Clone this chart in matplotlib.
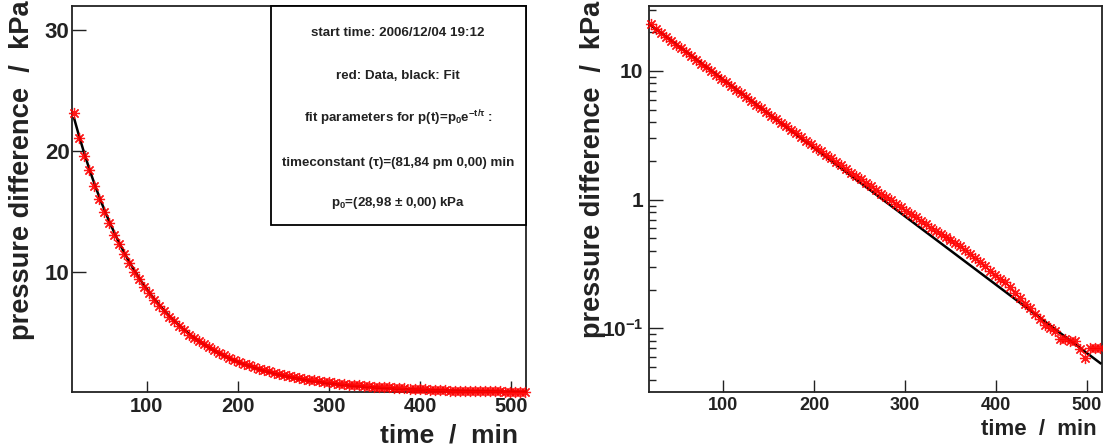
import matplotlib
matplotlib.use('Agg')
import matplotlib.pyplot as plt
import numpy as np
from matplotlib.patches import Rectangle
from matplotlib.ticker import FixedLocator, FixedFormatter, LogLocator, NullFormatter

plt.rcParams['font.family'] = ['Liberation Sans', 'DejaVu Sans']
plt.rcParams['font.weight'] = 'bold'
plt.rcParams['mathtext.fontset'] = 'custom'
plt.rcParams['mathtext.rm'] = 'Liberation Sans:bold'
plt.rcParams['mathtext.it'] = 'Liberation Sans:bold'
plt.rcParams['mathtext.bf'] = 'Liberation Sans:bold'

# measured time (min) and pressure difference (kPa)
time_min = [20.0, 25.5, 31.0, 36.5, 42.0, 47.5, 53.0, 58.5, 64.0, 69.5,
            75.0, 80.5, 86.0, 91.5, 97.0, 102.5, 108.0, 113.5, 119.0, 124.5,
            130.0, 135.5, 141.0, 146.5, 152.0, 157.5, 163.0, 168.5, 174.0, 179.5,
            185.0, 190.5, 196.0, 201.5, 207.0, 212.5, 218.0, 223.5, 229.0, 234.5,
            240.0, 245.5, 251.0, 256.5, 262.0, 267.5, 273.0, 278.5, 284.0, 289.5,
            295.0, 300.5, 306.0, 311.5, 317.0, 322.5, 328.0, 333.5, 339.0, 344.5,
            350.0, 355.5, 361.0, 366.5, 372.0, 377.5, 383.0, 388.5, 394.0, 399.5,
            405.0, 410.5, 416.0, 421.5, 427.0, 432.5, 438.0, 443.5, 449.0, 454.5,
            460.0, 465.5, 471.0, 476.5, 482.0, 487.5, 493.0, 498.5, 504.0, 509.5,
            515.0]
pressure_kpa = [23.13, 21.07, 19.57, 18.39, 17.07, 16.03, 14.96, 14.05, 13.05, 12.25,
                11.43, 10.74, 9.99, 9.37, 8.72, 8.21, 7.64, 7.16, 6.71, 6.24,
                5.88, 5.47, 5.14, 4.79, 4.50, 4.23, 3.97, 3.73, 3.48, 3.28,
                3.08, 2.87, 2.70, 2.54, 2.39, 2.24, 2.10, 1.96, 1.85, 1.74,
                1.62, 1.53, 1.44, 1.35, 1.27, 1.19, 1.11, 1.050, 0.988, 0.926,
                0.872, 0.821, 0.773, 0.728, 0.685, 0.645, 0.606, 0.571, 0.541, 0.510,
                0.483, 0.457, 0.435, 0.405, 0.377, 0.354, 0.328, 0.304, 0.279, 0.258,
                0.242, 0.229, 0.211, 0.1875, 0.1721, 0.1544, 0.1451, 0.1298, 0.1172, 0.1057,
                0.0998, 0.0958, 0.0833, 0.0829, 0.0802, 0.0800, 0.0691, 0.0591, 0.0705, 0.0708,
                0.0703]

# fit result p(t) = p0 * exp(-t/tau)
p0 = 28.98
tau = 81.84
fit_range = (20.0, 515.0)

info_lines = [
    "start time: 2006/12/04 19:12",
    "red: Data, black: Fit",
    r"fit parameters for p(t)=p$_0$e$^{-t/\tau}$ :",
    "timeconstant (\u03c4)=(81,84 pm 0,00) min",
    r"p$_0$=(28,98 $\pm$ 0,00) kPa",
]

W, H = 1103, 448
fig = plt.figure(figsize=(W / 100, H / 100), dpi=100)
ax1 = fig.add_axes([72.3 / W, 56 / H, 453.7 / W, 386 / H])
ax2 = fig.add_axes([649 / W, 56 / H, 452.7 / W, 386 / H])

tt = np.linspace(fit_range[0], fit_range[1], 400)
fit = p0 * np.exp(-tt / tau)

for ax in (ax1, ax2):
    ax.plot(tt, fit, color='black', lw=1.8, zorder=3)
    ax.plot(time_min, pressure_kpa, ls='none', marker=(8, 2, 0), ms=8,
            mec='red', mew=0.9, color='red', alpha=0.9, zorder=4, clip_on=False)
    ax.set_xlim(18, 516.5)
    for s in ax.spines.values():
        s.set_linewidth(1.3)
        s.set_color('#222222')
    ax.xaxis.set_major_locator(FixedLocator([100, 200, 300, 400, 500]))

ax1.set_ylim(0.032, 32)
ax1.yaxis.set_major_locator(FixedLocator([10, 20, 30]))
ax1.tick_params(axis='y', direction='in', length=10, width=1.0, labelsize=16, pad=2, colors='#222222')
ax1.tick_params(axis='x', direction='in', length=8, width=1.0, labelsize=14.5, pad=3.5, colors='#222222')

ax2.set_yscale('log')
ax2.set_ylim(0.032, 32)
ax2.yaxis.set_major_locator(FixedLocator([0.1, 1, 10]))
ax2.yaxis.set_major_formatter(FixedFormatter([r'$10^{-1}$', '1', '10']))
ax2.yaxis.set_minor_locator(LogLocator(base=10, subs=range(2, 10)))
ax2.yaxis.set_minor_formatter(NullFormatter())
ax2.tick_params(axis='y', which='major', direction='in', length=10, width=1.0, labelsize=15, pad=4, colors='#222222')
ax2.tick_params(axis='y', which='minor', direction='in', length=5, width=1.0, colors='#222222')
ax2.tick_params(axis='x', direction='in', length=8.5, width=1.0, labelsize=13, pad=3.5, colors='#222222')

# axis titles
fig.text(22 / W, 1.0, "pressure difference  /  kPa", rotation=90, ha='center', va='top',
         fontsize=19.6, fontweight='bold', color='#222222')
fig.text(593 / W, 0.998, "pressure difference  /  kPa", rotation=90, ha='center', va='top',
         fontsize=19.5, fontweight='bold', color='#222222')
fig.text(518.3 / W, (H - 442) / H, "time  /  min", ha='right', va='baseline',
         fontsize=19, fontweight='bold', color='#222222')
fig.text(1096.7 / W, (H - 435) / H, "time  /  min", ha='right', va='baseline',
         fontsize=16, fontweight='bold', color='#222222')

# info box
box = Rectangle((0.438, 0.4326), 0.562, 0.5674, transform=ax1.transAxes,
                facecolor='white', edgecolor='black', lw=1.3, zorder=5, clip_on=False)
ax1.add_patch(box)
line_y = [0.930, 0.819, 0.710, 0.593, 0.490]
for txt, yy in zip(info_lines, line_y):
    ax1.text(0.718, yy, txt, transform=ax1.transAxes, ha='center', va='center',
             fontsize=9.6, fontweight='bold', color='#222222', zorder=6)

fig.savefig('out.png', dpi=100)
